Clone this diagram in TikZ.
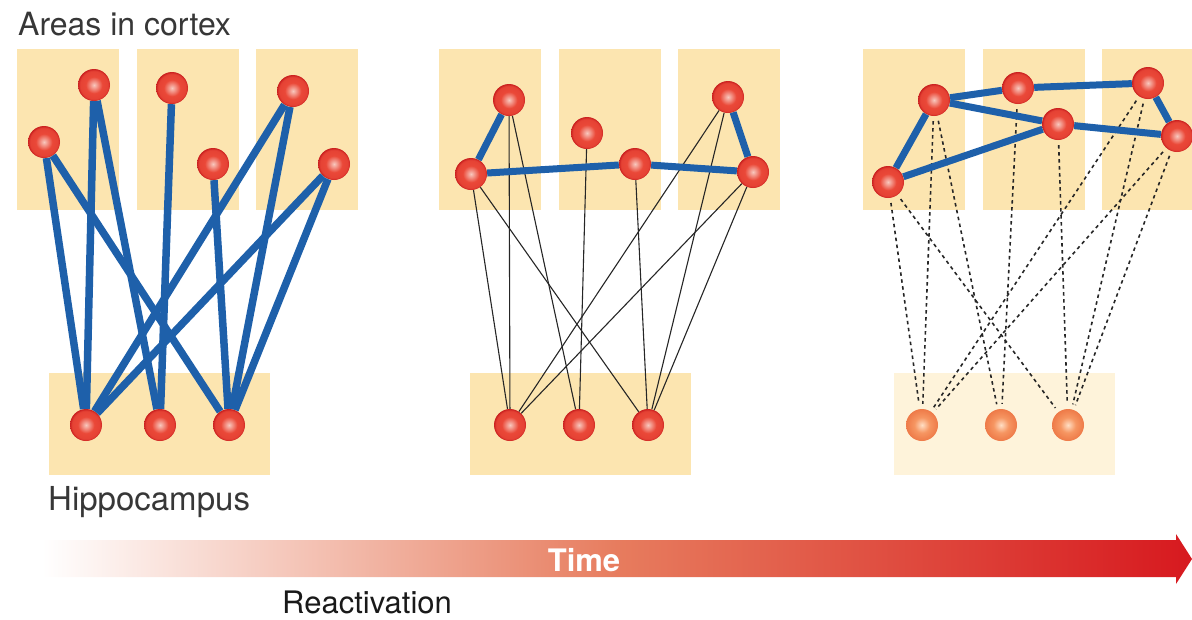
\documentclass[tikz,border=0pt]{standalone}
\usepackage{fontspec}
\setmainfont{TeX Gyre Heros}
\usetikzlibrary{arrows.meta,positioning}

\definecolor{areafill}{RGB}{252,229,176}
\definecolor{paleareafill}{RGB}{254,243,218}
\definecolor{linkblue}{RGB}{30,96,170}
\definecolor{textgray}{RGB}{55,55,55}
\definecolor{balllight}{RGB}{248,200,190}
\definecolor{ballred}{RGB}{234,72,56}
\definecolor{balldark}{RGB}{200,30,30}
\definecolor{orlight}{RGB}{255,222,196}
\definecolor{ormid}{RGB}{246,150,98}
\definecolor{ordark}{RGB}{238,122,72}
\definecolor{timesalmon}{RGB}{231,124,94}
\definecolor{timered}{RGB}{215,25,31}

\pgfdeclareradialshading{redball}{\pgfpoint{0bp}{0bp}}{color(0bp)=(balllight); color(13bp)=(ballred); color(22bp)=(ballred!85!balldark); color(25bp)=(balldark); color(50bp)=(balldark)}
\pgfdeclareradialshading{orangeball}{\pgfpoint{0bp}{0bp}}{color(0bp)=(orlight); color(12bp)=(ormid); color(25bp)=(ordark); color(50bp)=(ordark)}

\begin{document}
\begin{tikzpicture}[x=1pt, y=-1pt,
    area/.style={fill=areafill},
    cell/.style={circle, minimum size=32pt, inner sep=0pt, shading=redball},
    oldcell/.style={circle, minimum size=32pt, inner sep=0pt, shading=orangeball},
    strong/.style={line width=7pt, draw=linkblue},
    weak/.style={line width=1.1pt, draw=black!85},
    faint/.style={line width=1.6pt, draw=black!85, dash pattern=on 3.5pt off 3.5pt, shorten <=5pt, shorten >=5pt},
    areatext/.style={font=\fontsize{31}{36}\selectfont, text=textgray, inner sep=0pt}
]
\useasboundingbox (0,0) rectangle (1192,619);

% cortex and hippocampus areas
\foreach \ox in {0,422,846} {
  \foreach \bx in {17,137,256}
    \fill[areafill] (\ox+\bx,49) rectangle (\ox+\bx+102,210);
}
\fill[areafill] (49,373) rectangle (270,475);
\fill[areafill] (470,373) rectangle (691,475);
\fill[paleareafill] (894,373) rectangle (1115,475);

% early: new memory, hippocampus links
\node[cell] (a1) at (44,142) {};
\node[cell] (a2) at (94,85) {};
\node[cell] (a3) at (172,88) {};
\node[cell] (a4) at (213,164) {};
\node[cell] (a5) at (293,91) {};
\node[cell] (a6) at (334,164) {};
\node[cell] (ah1) at (86,425) {};
\node[cell] (ah2) at (160,425) {};
\node[cell] (ah3) at (229,425) {};

% middle
\node[cell] (b1) at (471,174) {};
\node[cell] (b2) at (509,100) {};
\node[cell] (b3) at (587,133) {};
\node[cell] (b4) at (635,164) {};
\node[cell] (b5) at (728,97) {};
\node[cell] (b6) at (753,172) {};
\node[cell] (bh1) at (510,425) {};
\node[cell] (bh2) at (579,425) {};
\node[cell] (bh3) at (648,425) {};

% late: cortical links only
\node[cell] (c1) at (888,182) {};
\node[cell] (c2) at (934,100) {};
\node[cell] (c3) at (1018,88) {};
\node[cell] (c4) at (1058,124) {};
\node[cell] (c5) at (1148,83) {};
\node[cell] (c6) at (1177,136) {};
\node[oldcell] (ch1) at (922,425) {};
\node[oldcell] (ch2) at (1001,425) {};
\node[oldcell] (ch3) at (1068,425) {};

\foreach \s/\t in {1/1,1/3,2/1,2/2,3/2,4/3,5/1,5/3,6/1,6/3} {
  \draw[strong, line width=7.5pt] (a\s) -- (ah\t);
  \draw[weak] (b\s) -- (bh\t);
  \draw[faint] (c\s) -- (ch\t);
}
\foreach \s/\t in {1/2,1/4,4/6,5/6}
  \draw[strong] (b\s) -- (b\t);
\foreach \s/\t in {1/2,2/3,3/5,5/6,6/4,4/2,4/1}
  \draw[strong] (c\s) -- (c\t);

% labels
\node[areatext, font=\fontsize{32}{36}\selectfont, anchor=base west] (cortex) at (18,35) {Areas in cortex};
\node[areatext, font=\fontsize{33}{38}\selectfont, anchor=base west] (hippo) at (48,510) {Hippocampus};

% time arrow
\shade[left color=white, right color=timered, middle color=timesalmon]
  (42,540) -- (1176,540) -- (1176,534) -- (1192,559) -- (1176,584) -- (1176,577) -- (42,577) -- cycle;
\node[font=\bfseries\fontsize{31}{36}\selectfont, text=white, inner sep=0pt, anchor=base] (time) at (584,571) {Time};
\node[areatext, anchor=base west, text=black!90] (react) at (282,613) {Reactivation};
\end{tikzpicture}
\end{document}
